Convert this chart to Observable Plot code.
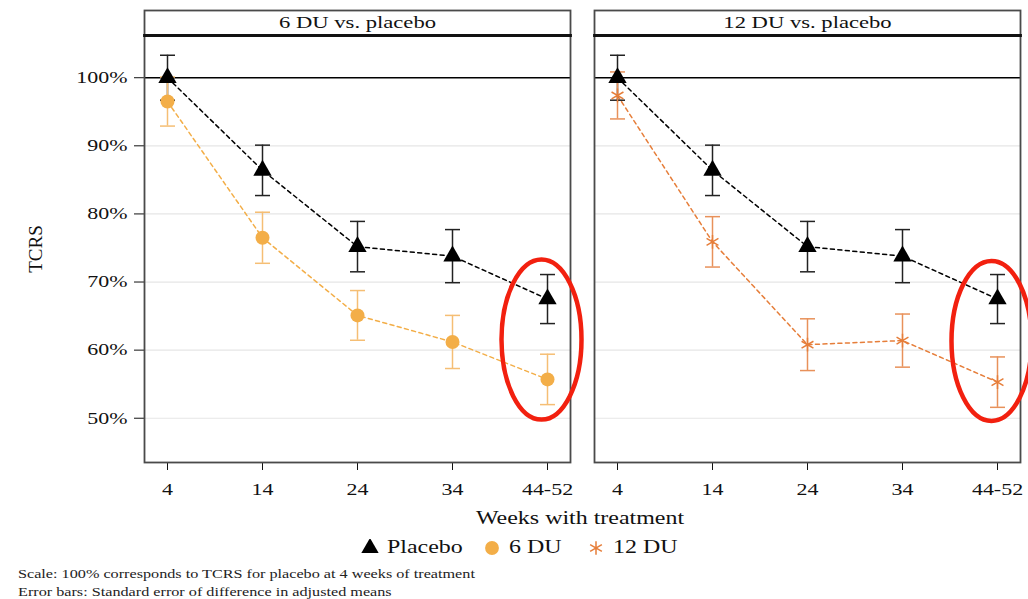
<!DOCTYPE html>
<html>
<head>
<meta charset="utf-8">
<script src="https://cdn.jsdelivr.net/npm/d3@7"></script>
<script src="https://cdn.jsdelivr.net/npm/@observablehq/plot@0.6"></script>
<style>
  html, body { margin: 0; padding: 0; background: #fff; }
  body { width: 1028px; height: 599px; overflow: hidden; font-family: "Liberation Serif", "DejaVu Serif", serif; color: #111; position: relative; }
  .stretch { display: inline-block; transform: scaleX(1.33); }
  #xlabel { position: absolute; left: 580px; top: 508px; font-size: 18px; white-space: nowrap; width: 0; }
  #xlabel .stretch { transform: translateX(-50%) scaleX(1.33); transform-origin: center center; }
  #legend { position: absolute; left: 0; top: 537px; font-size: 18px; white-space: nowrap; }
  #legend .item { position: absolute; display: inline-flex; align-items: center; top: 0; }
  #legend .item svg { margin-right: 8px; }
  #legend .stretch { transform-origin: left center; }
  #notes { position: absolute; left: 18px; top: 565px; font-size: 12.5px; line-height: 18px; white-space: nowrap; color: #222; }
  #notes .stretch { transform: scaleX(1.295); transform-origin: left center; display: block; }
</style>
</head>
<body>
<div id="chart"></div>
<div id="xlabel"><span class="stretch">Weeks with treatment</span></div>
<div id="legend"></div>
<div id="notes"><span class="stretch">Scale: 100% corresponds to TCRS for placebo at 4 weeks of treatment</span><span class="stretch">Error bars: Standard error of difference in adjusted means</span></div>
<script>
// ---- data ----
const weeks = ["4", "14", "24", "34", "44-52"];
const panels = ["6 DU vs. placebo", "12 DU vs. placebo"];
const groups = ["Placebo", "6 DU", "12 DU"];
const placebo   = [100.0, 86.4, 75.2, 73.8, 67.5];
const placeboSE = [3.3, 3.7, 3.7, 3.9, 3.6];
const du6       = [96.5, 76.5, 65.1, 61.2, 55.7];
const du6SE     = [3.6, 3.75, 3.65, 3.9, 3.7];
const du12      = [97.4, 75.9, 60.8, 61.4, 55.3];
const du12SE    = [3.45, 3.7, 3.8, 3.9, 3.7];
const yTicks = [50, 60, 70, 80, 90, 100];
const highlightWeek = "44-52";

const colors = {"Placebo": "#000000", "6 DU": "#F3AE48", "12 DU": "#E67E3A"};
const barColors = {"Placebo": "#222222", "6 DU": "#F5BE74", "12 DU": "#E8915A"};
const symbols = {"Placebo": "triangle", "6 DU": "circle", "12 DU": "asterisk"};
const STRETCH = 1.33;

// ---- build rows ----
const rows = [];
function add(panel, group, vals, ses) {
  weeks.forEach((w, i) => rows.push({panel, group, week: w, value: vals[i], se: ses[i]}));
}
add(panels[0], "Placebo", placebo, placeboSE);
add(panels[0], "6 DU", du6, du6SE);
add(panels[1], "Placebo", placebo, placeboSE);
add(panels[1], "12 DU", du12, du12SE);

const highlight = panels.map((p, k) => {
  const i = weeks.indexOf(highlightWeek);
  const t = k === 0 ? {v: du6, s: du6SE} : {v: du12, s: du12SE};
  return {panel: p, week: highlightWeek, value: ((placebo[i] + placeboSE[i]) + (t.v[i] - t.s[i])) / 2};
});

const ellipse = {
  draw(ctx, size) {
    const rx = 40, ry = 80, k = 0.5523;
    ctx.moveTo(rx, 0);
    ctx.bezierCurveTo(rx, ry * k, rx * k, ry, 0, ry);
    ctx.bezierCurveTo(-rx * k, ry, -rx, ry * k, -rx, 0);
    ctx.bezierCurveTo(-rx, -ry * k, -rx * k, -ry, 0, -ry);
    ctx.bezierCurveTo(rx * k, -ry, rx, -ry * k, rx, 0);
    ctx.closePath();
  }
};
const cap = {
  draw(ctx, size) { ctx.moveTo(-7.5, 0); ctx.lineTo(7.5, 0); }
};

const chart = Plot.plot({
  width: 1028,
  height: 502,
  marginLeft: 144,
  marginRight: 8,
  marginTop: 35,
  marginBottom: 40,
  style: {fontFamily: "'Liberation Serif', 'DejaVu Serif', serif", fontSize: "16.5px", color: "#111", background: "white", overflow: "visible"},
  fx: {domain: panels, paddingInner: 24 / 450, paddingOuter: 0, axis: null},
  x: {domain: weeks, type: "point", padding: 0.225, label: null, tickSize: 8, tickPadding: 13},
  y: {domain: [43.5, 106.2], ticks: yTicks, tickFormat: d => d + "%", label: "TCRS", labelAnchor: "center", labelArrow: false, tickSize: 10, tickPadding: 7, labelOffset: 116},
  marks: [
    Plot.ruleY(yTicks.filter(t => t !== 100), {y: d => d, stroke: "#e6e6e6", strokeWidth: 1.2}),
    Plot.ruleY([100], {y: d => d, stroke: "#000", strokeWidth: 1.6}),
    Plot.frame({stroke: "#4a4a4a", strokeWidth: 1.8, insetTop: -25}),
    Plot.frame({anchor: "top", stroke: "#111", strokeWidth: 2.8}),
    Plot.text(panels, {fx: d => d, text: d => d, frameAnchor: "top", lineAnchor: "middle", dy: -12.5, fontSize: 17, fill: "#111"}),
    Plot.line(rows, {fx: "panel", x: "week", y: "value", z: "group", stroke: d => colors[d.group], strokeWidth: 1.5, strokeDasharray: "4,3.5"}),
    Plot.ruleX(rows, {fx: "panel", x: "week", y1: d => d.value - d.se, y2: d => d.value + d.se, stroke: d => barColors[d.group], strokeWidth: 1.5}),
    Plot.dot(rows, {fx: "panel", x: "week", y: d => d.value - d.se, symbol: cap, stroke: d => barColors[d.group], strokeWidth: 1.5, fill: "none"}),
    Plot.dot(rows, {fx: "panel", x: "week", y: d => d.value + d.se, symbol: cap, stroke: d => barColors[d.group], strokeWidth: 1.5, fill: "none"}),
    Plot.dot(rows.filter(d => d.group === "Placebo"), {fx: "panel", x: "week", y: "value", symbol: "triangle", r: 6.8, fill: "#000", stroke: "none"}),
    Plot.dot(rows.filter(d => d.group === "6 DU"), {fx: "panel", x: "week", y: "value", symbol: "circle", r: 7, fill: colors["6 DU"], stroke: "none"}),
    Plot.dot(rows.filter(d => d.group === "12 DU"), {fx: "panel", x: "week", y: "value", symbol: "asterisk", r: 6.5, stroke: colors["12 DU"], strokeWidth: 1.5, fill: "none"}),
    Plot.dot(highlight, {fx: "panel", x: "week", y: "value", symbol: ellipse, dx: -6, stroke: "#F2200F", strokeWidth: 4.5, fill: "none"})
  ]
});
document.getElementById("chart").appendChild(chart);

// stretch horizontal svg text to match the wide serif glyphs of the reference
d3.select(chart).selectAll("text").each(function() {
  const tr = this.getAttribute("transform") || "";
  if (tr.includes("rotate")) {
    this.style.fontSize = "19px";
    return;
  }
  const len = this.getComputedTextLength();
  if (len > 0) {
    this.setAttribute("textLength", len * STRETCH);
    this.setAttribute("lengthAdjust", "spacingAndGlyphs");
  }
});

// ---- legend ----
const legend = document.getElementById("legend");
const legendX = [361, 483, 587];
groups.forEach((g, k) => {
  const item = document.createElement("span");
  item.className = "item";
  item.style.left = legendX[k] + "px";
  const sym = d3.create("svg").attr("width", 18).attr("height", 18).attr("viewBox", "-9 -9 18 18");
  const symType = {triangle: d3.symbolTriangle, circle: d3.symbolCircle, asterisk: d3.symbolAsterisk}[symbols[g]];
  const path = sym.append("path").attr("d", d3.symbol(symType, symbols[g] === "circle" ? 150 : 130)());
  if (symbols[g] === "asterisk") path.attr("fill", "none").attr("stroke", colors[g]).attr("stroke-width", 1.5);
  else path.attr("fill", colors[g]);
  item.appendChild(sym.node());
  const t = document.createElement("span");
  t.className = "stretch";
  t.textContent = g;
  item.appendChild(t);
  legend.appendChild(item);
});
</script>
</body>
</html>
